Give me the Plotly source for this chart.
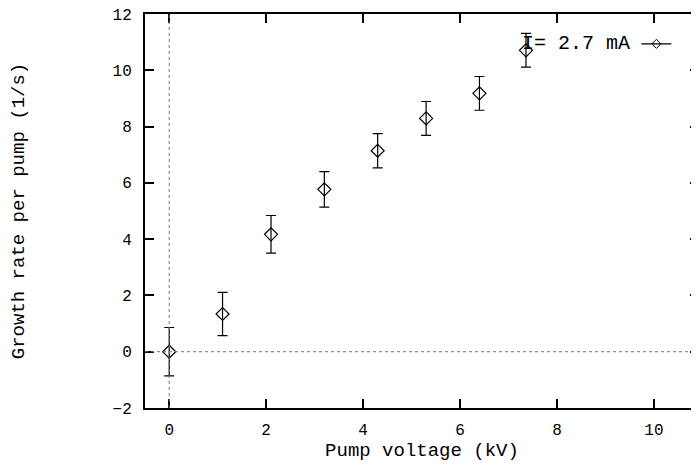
import plotly.graph_objects as go

# pump voltage (kV) and growth rate per pump (1/s) with errors
voltage = [0.0, 1.1, 2.1, 3.2, 4.3, 5.3, 6.4, 7.36]
growth = [0.0, 1.34, 4.17, 5.77, 7.14, 8.29, 9.18, 10.71]
growth_err = [0.86, 0.77, 0.67, 0.63, 0.61, 0.60, 0.60, 0.60]
legend_label = "I= 2.7 mA"

FONT = "Liberation Mono, Courier New, monospace"
xr = [-0.5, 10.93]
yr = [-2, 12]
yticks = list(range(-2, 13, 2))

fig = go.Figure()
fig.add_trace(go.Scatter(
    x=voltage, y=growth, mode="markers",
    marker=dict(symbol="diamond-open", size=10, color="black", line=dict(width=1.2)),
    error_y=dict(type="data", array=growth_err, color="black", thickness=1.2, width=5),
    showlegend=False,
))
# legend sample only; sits on the right-hand tick axis
fig.add_trace(go.Scatter(
    x=[None], y=[None], mode="lines+markers", name="",
    line=dict(color="black", width=1.2),
    marker=dict(symbol="diamond-open", size=7, color="black"),
    yaxis="y2", showlegend=True,
))

fig.add_hline(y=0, line=dict(color="#777777", width=1, dash="dot"))
fig.add_vline(x=0, line=dict(color="#777777", width=1, dash="dot"))

axis_common = dict(ticks="inside", ticklen=9, tickwidth=1.5, tickcolor="black",
                   showgrid=False, zeroline=False, tickfont=dict(size=16),
                   automargin=False)

# page body adds an 8px margin, so the figure is 8px smaller than the window
fig.update_layout(
    width=691, height=458,
    margin=dict(l=137, r=0, t=6, b=58, autoexpand=False),
    paper_bgcolor="white", plot_bgcolor="white",
    font=dict(family=FONT, color="black", size=16),
    xaxis=dict(range=xr, tickvals=[0, 2, 4, 6, 8, 10], ticklabelstandoff=6,
               showline=True, linewidth=2, linecolor="black", mirror="ticks",
               title=dict(text="Pump voltage (kV)", font=dict(size=19), standoff=0),
               **axis_common),
    yaxis=dict(range=yr, tickvals=yticks, ticklabelstandoff=8, ticklabeloverflow="allow",
               showline=True, linewidth=2, linecolor="black",
               title=dict(text="Growth rate per pump (1/s)", font=dict(size=19), standoff=88),
               **axis_common),
    yaxis2=dict(range=yr, tickvals=yticks, overlaying="y", side="right",
                showticklabels=False, showline=False, **axis_common),
    showlegend=True,
    legend=dict(x=0.887, y=0.924, xanchor="left", yanchor="middle",
                bgcolor="rgba(0,0,0,0)", borderwidth=0),
    annotations=[dict(text=legend_label, xref="paper", yref="paper", x=0.879, y=0.926,
                      xanchor="right", yanchor="middle", showarrow=False,
                      font=dict(size=20))],
)

fig.write_html("out.html")
